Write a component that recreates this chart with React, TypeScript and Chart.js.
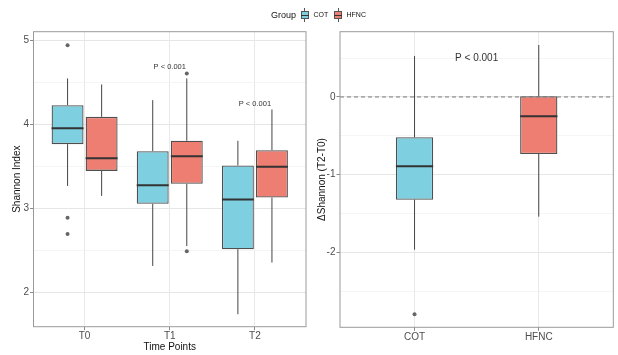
import React, { useEffect, useRef } from 'react';
import { Chart, registerables } from 'chart.js';
Chart.register(...registerables);

// ---------- data ----------
const timePoints = ['T0', 'T1', 'T2'];
const groups = ['COT', 'HFNC'];
// [lower whisker, Q1, median, Q3, upper whisker]
const cotStats = [
  [3.265, 3.762, 3.952, 4.226, 4.544],
  [2.313, 3.052, 3.274, 3.679, 4.286],
  [1.738, 2.512, 3.103, 3.508, 3.802],
];
const hfncStats = [
  [3.146, 3.444, 3.595, 4.087, 4.472],
  [2.55, 3.29, 3.619, 3.802, 4.544],
  [2.353, 3.127, 3.492, 3.69, 4.175],
];
const cotOutliers = [[4.94, 2.885, 2.694], [], []];
const hfncOutliers = [[], [4.603, 2.488], []];
const pLabels = ['', 'P < 0.001', 'P < 0.001'];
const pLabelValues = [null, 4.68, 4.24];

const deltaStats = [
  [-1.966, -1.322, -0.893, -0.519, 0.528],
  [-1.54, -0.734, -0.248, 0.009, 0.669],
];
const deltaOutliers = [[-2.797], []];
const deltaPLabel = 'P < 0.001';
const deltaPLabelValue = 0.5;

// ---------- style ----------
const FONT = "'Liberation Sans', Arial, Helvetica, sans-serif";
const CYAN = '#7ecfdf';
const RED = '#ee7e72';
const BOX_BORDER = '#4f4f4f';
const PANEL_BORDER = '#9a9a9a';
const DODGE = 0.2;

const boxPlugin = {
  id: 'boxExtras',
  beforeDatasetsDraw(chart: any) {
    const y = chart.scales.y;
    const ctx = chart.ctx;
    chart.data.datasets.forEach((ds: any, d: number) => {
      if (!ds.stats) return;
      const meta = chart.getDatasetMeta(d);
      meta.data.forEach((el: any, j: number) => {
        const s = ds.stats[j];
        ctx.save();
        ctx.strokeStyle = '#454545';
        ctx.lineWidth = 1;
        ctx.beginPath();
        ctx.moveTo(el.x, y.getPixelForValue(s[0]));
        ctx.lineTo(el.x, y.getPixelForValue(s[1]));
        ctx.moveTo(el.x, y.getPixelForValue(s[3]));
        ctx.lineTo(el.x, y.getPixelForValue(s[4]));
        ctx.stroke();
        ctx.restore();
      });
    });
  },
  afterDatasetsDraw(chart: any) {
    const y = chart.scales.y;
    const x = chart.scales.x;
    const ctx = chart.ctx;
    const area = chart.chartArea;
    chart.data.datasets.forEach((ds: any, d: number) => {
      if (!ds.stats) return;
      const meta = chart.getDatasetMeta(d);
      meta.data.forEach((el: any, j: number) => {
        const s = ds.stats[j];
        const py = y.getPixelForValue(s[2]);
        ctx.save();
        ctx.strokeStyle = '#333333';
        ctx.lineWidth = 2;
        ctx.beginPath();
        ctx.moveTo(el.x - el.width / 2, py);
        ctx.lineTo(el.x + el.width / 2, py);
        ctx.stroke();
        ctx.restore();
      });
    });
    const opts = chart.options.plugins.boxExtras || {};
    if (opts.zeroLine) {
      const py = y.getPixelForValue(0);
      ctx.save();
      ctx.strokeStyle = '#777777';
      ctx.lineWidth = 1;
      ctx.setLineDash([4, 3]);
      ctx.beginPath();
      ctx.moveTo(area.left, py);
      ctx.lineTo(area.right, py);
      ctx.stroke();
      ctx.restore();
    }
    if (opts.labels) {
      ctx.save();
      ctx.fillStyle = '#333333';
      ctx.textAlign = 'center';
      ctx.textBaseline = 'middle';
      ctx.font = `${opts.labelSize}px ${FONT}`;
      opts.labels.forEach((lab: any) => {
        if (!lab.text || lab.y == null) return;
        ctx.fillText(lab.text, x.getPixelForValue(lab.x), y.getPixelForValue(lab.y));
      });
      ctx.restore();
    }
    ctx.save();
    ctx.strokeStyle = PANEL_BORDER;
    ctx.lineWidth = 1;
    ctx.strokeRect(area.left, area.top, area.right - area.left, area.bottom - area.top);
    ctx.restore();
  },
};

const tickFont = { family: FONT, size: 10 };
const titleFont = { family: FONT, size: 10 };
const isMajor = (c: any) => c.tick && Number.isInteger(Math.round(c.tick.value * 1000) / 1000);

function yAxis(min: number, max: number, title: string, titlePad: number, width: number) {
  return {
    min,
    max,
    ticks: {
      stepSize: 0.5,
      includeBounds: false,
      color: '#4d4d4d',
      font: tickFont,
      padding: 1,
      callback: (v: any) => (Number.isInteger(v) ? String(v) : ''),
    },
    grid: {
      color: (c: any) => (isMajor(c) ? '#e6e6e6' : '#f1f1f1'),
      lineWidth: (c: any) => (isMajor(c) ? 1 : 0.7),
      tickColor: (c: any) => (isMajor(c) ? '#8a8a8a' : 'rgba(0,0,0,0)'),
      tickLength: 3.5,
    },
    border: { display: false },
    title: { display: true, text: title, font: titleFont, color: '#111', padding: { top: titlePad, bottom: 0 } },
    afterFit: (s: any) => {
      s.width = width;
    },
  };
}

function xAxis(labels: string[], min: number, max: number, title: string | null, height: number) {
  return {
    type: 'linear',
    min,
    max,
    offset: false,
    ticks: {
      stepSize: 1,
      includeBounds: false,
      autoSkip: false,
      maxRotation: 0,
      color: '#4d4d4d',
      font: tickFont,
      padding: 0,
      callback: (v: any) => labels[v] ?? '',
    },
    grid: {
      offset: false,
      color: '#e9e9e9',
      tickColor: '#8a8a8a',
      tickLength: 3.5,
    },
    border: { display: false },
    title: title
      ? { display: true, text: title, font: titleFont, color: '#111', padding: { top: 0, bottom: 2 } }
      : { display: false },
    afterFit: (s: any) => {
      s.height = height;
    },
  };
}

function outlierPoints(list: number[][], offset: number) {
  const pts: { x: number; y: number }[] = [];
  list.forEach((vals, i) => vals.forEach((v) => pts.push({ x: i + offset, y: v })));
  return pts;
}

function LeftChart() {
  const ref = useRef<HTMLCanvasElement>(null);
  useEffect(() => {
    const chart = new Chart(ref.current as HTMLCanvasElement, {
      type: 'bar',
      data: {
        datasets: [
          {
            label: groups[0],
            data: cotStats.map((s, i) => ({ x: i, y: [s[1], s[3]] })),
            stats: cotStats,
            backgroundColor: CYAN,
            borderColor: BOX_BORDER,
            borderWidth: 1.3,
            borderSkipped: false,
            categoryPercentage: 0.8,
            barPercentage: 0.9375,
          } as any,
          {
            label: groups[1],
            data: hfncStats.map((s, i) => ({ x: i, y: [s[1], s[3]] })),
            stats: hfncStats,
            backgroundColor: RED,
            borderColor: BOX_BORDER,
            borderWidth: 1.3,
            borderSkipped: false,
            categoryPercentage: 0.8,
            barPercentage: 0.9375,
          } as any,
          {
            type: 'scatter',
            data: outlierPoints(cotOutliers, -DODGE),
            backgroundColor: '#666',
            borderWidth: 0,
            pointRadius: 2,
          } as any,
          {
            type: 'scatter',
            data: outlierPoints(hfncOutliers, DODGE),
            backgroundColor: '#666',
            borderWidth: 0,
            pointRadius: 2,
          } as any,
        ],
      },
      options: {
        animation: false,
        responsive: false,
        maintainAspectRatio: false,
        layout: { padding: { left: 0, right: 3, top: 31.7, bottom: 0 } },
        plugins: {
          legend: { display: false },
          tooltip: { enabled: false },
          boxExtras: {
            labels: pLabels.map((t, i) => ({ text: t, x: i, y: pLabelValues[i] })),
            labelSize: 7.5,
          },
        } as any,
        scales: {
          x: xAxis(timePoints, -0.6, 2.6, 'Time Points', 28.3),
          y: yAxis(1.59, 5.1, 'Shannon Index', 11.5, 33.5),
        } as any,
      },
      plugins: [boxPlugin],
    });
    return () => chart.destroy();
  }, []);
  return <canvas ref={ref} width={310} height={355} style={{ position: 'absolute', left: 0, top: 0 }} />;
}

function RightChart() {
  const ref = useRef<HTMLCanvasElement>(null);
  useEffect(() => {
    const chart = new Chart(ref.current as HTMLCanvasElement, {
      type: 'bar',
      data: {
        datasets: [
          {
            data: deltaStats.map((s, i) => ({ x: i, y: [s[1], s[3]] })),
            stats: deltaStats,
            backgroundColor: [CYAN, RED],
            borderColor: BOX_BORDER,
            borderWidth: 1.3,
            borderSkipped: false,
            categoryPercentage: 0.3,
            barPercentage: 1,
          } as any,
          {
            type: 'scatter',
            data: outlierPoints(deltaOutliers, 0),
            backgroundColor: '#666',
            borderWidth: 0,
            pointRadius: 2,
          } as any,
        ],
      },
      options: {
        animation: false,
        responsive: false,
        maintainAspectRatio: false,
        layout: { padding: { left: 0, right: 4.7, top: 31.7, bottom: 0 } },
        plugins: {
          legend: { display: false },
          tooltip: { enabled: false },
          boxExtras: {
            zeroLine: true,
            labels: [{ text: deltaPLabel, x: 0.5, y: deltaPLabelValue }],
            labelSize: 10,
          },
        } as any,
        scales: {
          x: xAxis(groups, -0.6, 1.6, null, 27.7),
          y: yAxis(-2.964, 0.84, 'ΔShannon (T2-T0)', 6.7, 30),
        } as any,
      },
      plugins: [boxPlugin],
    });
    return () => chart.destroy();
  }, []);
  return <canvas ref={ref} width={308} height={355} style={{ position: 'absolute', left: 310, top: 0 }} />;
}

function LegendKey({ color }: { color: string }) {
  return (
    <div style={{ position: 'relative', width: 8, height: 14 }}>
      <div style={{ position: 'absolute', left: 3.5, top: 0, width: 1, height: 14, background: '#555' }} />
      <div
        style={{
          position: 'absolute',
          left: 0,
          top: 3,
          width: 8,
          height: 8,
          boxSizing: 'border-box',
          background: color,
          border: '1px solid #555',
        }}
      />
      <div style={{ position: 'absolute', left: 0, top: 6.5, width: 8, height: 1, background: '#333' }} />
    </div>
  );
}

export default function App() {
  return (
    <div
      style={{
        position: 'absolute',
        left: 0,
        top: 0,
        width: 618,
        height: 355,
        background: '#fff',
        fontFamily: FONT,
        overflow: 'hidden',
      }}
    >
      <LeftChart />
      <RightChart />
      <div style={{ position: 'absolute', left: 271, top: 8.5, fontSize: 9, lineHeight: '12px', color: '#111' }}>Group</div>
      <div style={{ position: 'absolute', left: 300.5, top: 8 }}>
        <LegendKey color={CYAN} />
      </div>
      <div style={{ position: 'absolute', left: 313.5, top: 10, fontSize: 7, lineHeight: '10px', color: '#111' }}>
        {groups[0]}
      </div>
      <div style={{ position: 'absolute', left: 334, top: 8 }}>
        <LegendKey color={RED} />
      </div>
      <div style={{ position: 'absolute', left: 346.5, top: 10, fontSize: 7, lineHeight: '10px', color: '#111' }}>
        {groups[1]}
      </div>
    </div>
  );
}
